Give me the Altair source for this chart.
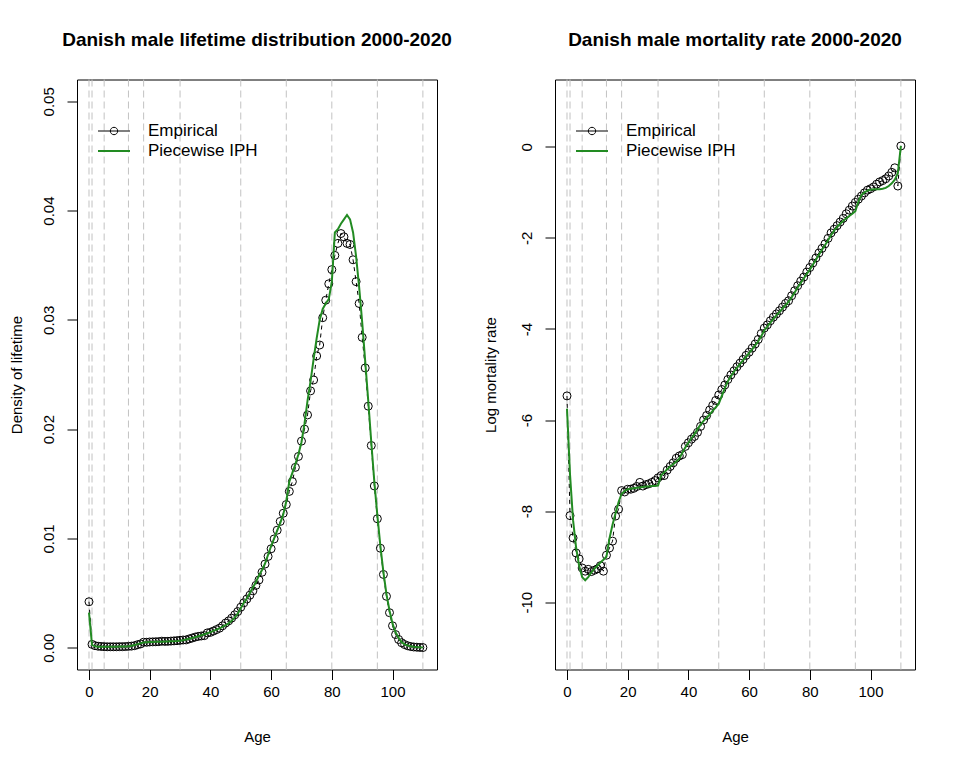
import altair as alt
import pandas as pd

AGES = list(range(111))
BREAKS = [0, 1, 5, 13, 18, 30, 50, 65, 80, 95, 110]
SERIES = ["Empirical", "Piecewise IPH"]
X_TICKS = [0, 20, 40, 60, 80, 100]
DENS_TICKS = [0.0, 0.01, 0.02, 0.03, 0.04, 0.05]
LOGMU_TICKS = [-10, -8, -6, -4, -2, 0]

DENS_EMP = [
    0.0042, 0.00030, 0.00018, 0.00013, 0.00011, 0.00009, 0.00008, 0.00008, 0.00008, 0.00008,
    0.00009, 0.00009, 0.00010, 0.00012, 0.00014, 0.00018, 0.00027, 0.00034, 0.00050, 0.00049,
    0.00052, 0.00053, 0.00054, 0.00055, 0.00059, 0.00057, 0.00058, 0.00060, 0.00062, 0.00064,
    0.00067, 0.00070, 0.00071, 0.00080, 0.00088, 0.00097, 0.00103, 0.00107, 0.00110, 0.00135,
    0.00140, 0.00152, 0.00165, 0.00178, 0.00200, 0.00225, 0.00245, 0.00270, 0.00300, 0.00330,
    0.00370, 0.00410, 0.00445, 0.00480, 0.00520, 0.00570, 0.00620, 0.00690, 0.00765, 0.00835,
    0.00905, 0.00995, 0.01075, 0.01155, 0.01230, 0.01310, 0.01430, 0.01520, 0.01650, 0.01750,
    0.01890, 0.02000, 0.02130, 0.02350, 0.02450, 0.02670, 0.02770, 0.03020, 0.03180, 0.03330,
    0.03460, 0.03590, 0.03700, 0.03790, 0.03760, 0.03700, 0.03690, 0.03550, 0.03350, 0.03150,
    0.02840, 0.02560, 0.02210, 0.01850, 0.01480, 0.01180, 0.00910, 0.00670, 0.00470, 0.00320,
    0.00200, 0.00120, 0.00075, 0.00045, 0.00028, 0.00017, 0.00010, 0.00006, 0.00004, 0.00002,
    0.00001,
]

DENS_FIT = [
    0.0032, 0.00025, 0.00012, 0.00009, 0.00008, 0.00008, 0.00008, 0.00008, 0.00009, 0.00009,
    0.00010, 0.00010, 0.00011, 0.00012, 0.00018, 0.00025, 0.00032, 0.00040, 0.00048, 0.00050,
    0.00051, 0.00052, 0.00053, 0.00054, 0.00055, 0.00056, 0.00057, 0.00058, 0.00059, 0.00060,
    0.00062, 0.00068, 0.00074, 0.00081, 0.00088, 0.00096, 0.00104, 0.00113, 0.00122, 0.00132,
    0.00142, 0.00153, 0.00165, 0.00177, 0.00190, 0.00205, 0.00222, 0.00245, 0.00275, 0.00310,
    0.00360, 0.00410, 0.00450, 0.00500, 0.00550, 0.00600, 0.00660, 0.00710, 0.00770, 0.00850,
    0.00930, 0.01000, 0.01070, 0.01140, 0.01220, 0.01340, 0.01520, 0.01600, 0.01680, 0.01770,
    0.01880, 0.02050, 0.02260, 0.02440, 0.02640, 0.02830, 0.03000, 0.03100, 0.03150, 0.03190,
    0.03350, 0.03800, 0.03830, 0.03880, 0.03920, 0.03960, 0.03920, 0.03800, 0.03580, 0.03300,
    0.02980, 0.02620, 0.02260, 0.01880, 0.01520, 0.01210, 0.00930, 0.00690, 0.00490, 0.00340,
    0.00220, 0.00140, 0.00090, 0.00050, 0.00030, 0.00020, 0.00012, 0.00008, 0.00005, 0.00003,
    0.00002,
]

LOGMU_EMP = [
    -5.47, -8.10, -8.59, -8.92, -9.05, -9.25, -9.32, -9.28, -9.33, -9.30,
    -9.27, -9.20, -9.32, -8.97, -8.81, -8.66, -8.11, -7.96, -7.55, -7.58,
    -7.52, -7.52, -7.50, -7.46, -7.37, -7.45, -7.42, -7.40, -7.37, -7.33,
    -7.27, -7.22, -7.22, -7.10, -7.02, -6.94, -6.84, -6.79, -6.76, -6.58,
    -6.50, -6.42, -6.36, -6.27, -6.14, -6.00, -5.90, -5.78, -5.68, -5.57,
    -5.45, -5.33, -5.23, -5.11, -5.01, -4.92, -4.83, -4.75, -4.67, -4.58,
    -4.51, -4.42, -4.33, -4.23, -4.10, -3.98, -3.91, -3.82, -3.74, -3.67,
    -3.60, -3.52, -3.44, -3.38, -3.27, -3.16, -3.05, -2.95, -2.86, -2.75,
    -2.65, -2.55, -2.44, -2.33, -2.23, -2.13, -2.01, -1.89, -1.81, -1.73,
    -1.65, -1.57, -1.47, -1.39, -1.30, -1.22, -1.15, -1.08, -1.01, -0.95,
    -0.92, -0.88, -0.82, -0.77, -0.74, -0.70, -0.64, -0.56, -0.46, -0.86,
    0.02,
]

LOGMU_FIT = [
    -5.75, -7.20, -8.20, -8.80, -9.20, -9.45, -9.52, -9.45, -9.35, -9.27,
    -9.20, -9.13, -9.07, -9.00, -8.60, -8.30, -8.05, -7.80, -7.62, -7.56,
    -7.52, -7.51, -7.50, -7.49, -7.48, -7.47, -7.46, -7.46, -7.45, -7.45,
    -7.44, -7.22, -7.15, -7.08, -7.02, -6.97, -6.91, -6.85, -6.72, -6.60,
    -6.50, -6.40, -6.31, -6.20, -6.10, -6.02, -5.95, -5.88, -5.80, -5.72,
    -5.64, -5.47, -5.30, -5.15, -5.04, -4.94, -4.85, -4.77, -4.69, -4.61,
    -4.53, -4.45, -4.36, -4.27, -4.16, -4.03, -3.95, -3.86, -3.78, -3.70,
    -3.63, -3.55, -3.48, -3.40, -3.31, -3.20, -3.09, -2.99, -2.89, -2.79,
    -2.70, -2.59, -2.48, -2.37, -2.26, -2.16, -2.05, -1.94, -1.84, -1.76,
    -1.69, -1.63, -1.57, -1.52, -1.47, -1.41, -1.20, -1.06, -1.00, -0.96,
    -0.94, -0.93, -0.93, -0.93, -0.92, -0.90, -0.86, -0.80, -0.72, -0.58,
    0.02,
]

FONT = "Liberation Sans"
GREEN = "#228B22"
PW, PH = 360, 590

# legend symbols (custom paths, unit = 4 px for symbolSize 64)
PATH_EMP = "M-4,0L4,0M0.925,0A0.925,0.925,0,1,1,-0.925,0A0.925,0.925,0,1,1,0.925,0"
PATH_FIT = "M-4,-0.125L4,-0.125M-4,0.125L4,0.125"


def panel(emp, fit, title, ytitle, ydomain, yticks, label_expr, title_x):
    df = pd.DataFrame({
        "age": AGES + AGES,
        "value": emp + fit,
        "series": [SERIES[0]] * len(AGES) + [SERIES[1]] * len(AGES),
    })
    brk = pd.DataFrame({"age": BREAKS})

    xscale = alt.Scale(domain=[-3.95, 114.65], nice=False, zero=False)
    yscale = alt.Scale(domain=ydomain, nice=False, zero=False)
    xaxis = alt.Axis(values=X_TICKS, title="Age", labelPadding=5,
                     titleY=71.5, titleBaseline="alphabetic")
    yaxis = alt.Axis(values=yticks, title=ytitle, labelExpr=label_expr,
                     labelAngle=270, labelAlign="center", labelBaseline="alphabetic",
                     labelPadding=14, titleAngle=270, titleAlign="center",
                     titleBaseline="alphabetic", titleX=title_x, titleY=PH / 2)
    X = alt.X("age:Q", scale=xscale, axis=xaxis)
    Y = alt.Y("value:Q", scale=yscale, axis=yaxis)

    rules = alt.Chart(brk).mark_rule(color="#c2c2c2", strokeDash=[7, 4], strokeWidth=1).encode(
        x=alt.X("age:Q", scale=xscale, axis=xaxis)
    )
    base = alt.Chart(df)
    emp_line = base.transform_filter(alt.datum.series == SERIES[0]).mark_line(
        color="black", strokeWidth=1, strokeDash=[4, 4]
    ).encode(x=X, y=Y)
    emp_pts = base.transform_filter(alt.datum.series == SERIES[0]).mark_point(
        shape="circle", filled=False, color="black", size=64, strokeWidth=1, opacity=1
    ).encode(x=X, y=Y)
    fit_line = base.transform_filter(alt.datum.series == SERIES[1]).mark_line(
        color=GREEN, strokeWidth=2
    ).encode(x=X, y=Y)
    legend = alt.Legend(title=None, orient="none", legendX=28.5, legendY=43,
                        symbolSize=64, labelOffset=25.5, rowPadding=2,
                        labelFont=FONT, labelFontSize=17, labelColor="black",
                        symbolStrokeWidth=1)
    leg = base.transform_filter("false").mark_point(filled=False, size=64, strokeWidth=1, opacity=1).encode(
        x=X, y=Y,
        color=alt.Color("series:N", scale=alt.Scale(domain=SERIES, range=["black", GREEN]), legend=legend),
        shape=alt.Shape("series:N", scale=alt.Scale(domain=SERIES, range=[PATH_EMP, PATH_FIT]), legend=legend),
    )
    return alt.layer(rules, emp_line, emp_pts, fit_line, leg).properties(
        width=PW, height=PH,
        title=alt.TitleParams(title, font=FONT, fontSize=19, fontWeight="bold", color="black",
                              anchor="middle", frame="group", baseline="alphabetic", offset=14.5),
    )


left = panel(DENS_EMP, DENS_FIT, "Danish male lifetime distribution 2000-2020",
             "Density of lifetime", [-0.002, 0.052], DENS_TICKS, "format(datum.value, '.2f')", -56)
right = panel(LOGMU_EMP, LOGMU_FIT, "Danish male mortality rate 2000-2020",
              "Log mortality rate", [-11.48, 1.48], LOGMU_TICKS, "'' + datum.value", -60)

chart = alt.hconcat(left, right, spacing=118, bounds="flush").resolve_scale(
    x="independent", y="independent", color="independent", shape="independent"
).resolve_legend(color="independent", shape="independent").properties(
    padding={"left": 0, "top": 21.5, "right": 5, "bottom": 5}, background="white"
).configure_view(stroke="black", strokeWidth=1).configure_axis(
    domain=False, grid=False, tickColor="black", tickSize=10, tickWidth=1,
    labelFont=FONT, labelFontSize=15, labelColor="black",
    titleFont=FONT, titleFontSize=15, titleFontWeight="normal", titleColor="black",
)

chart.save("out.html", embed_options={"renderer": "svg", "actions": False})
